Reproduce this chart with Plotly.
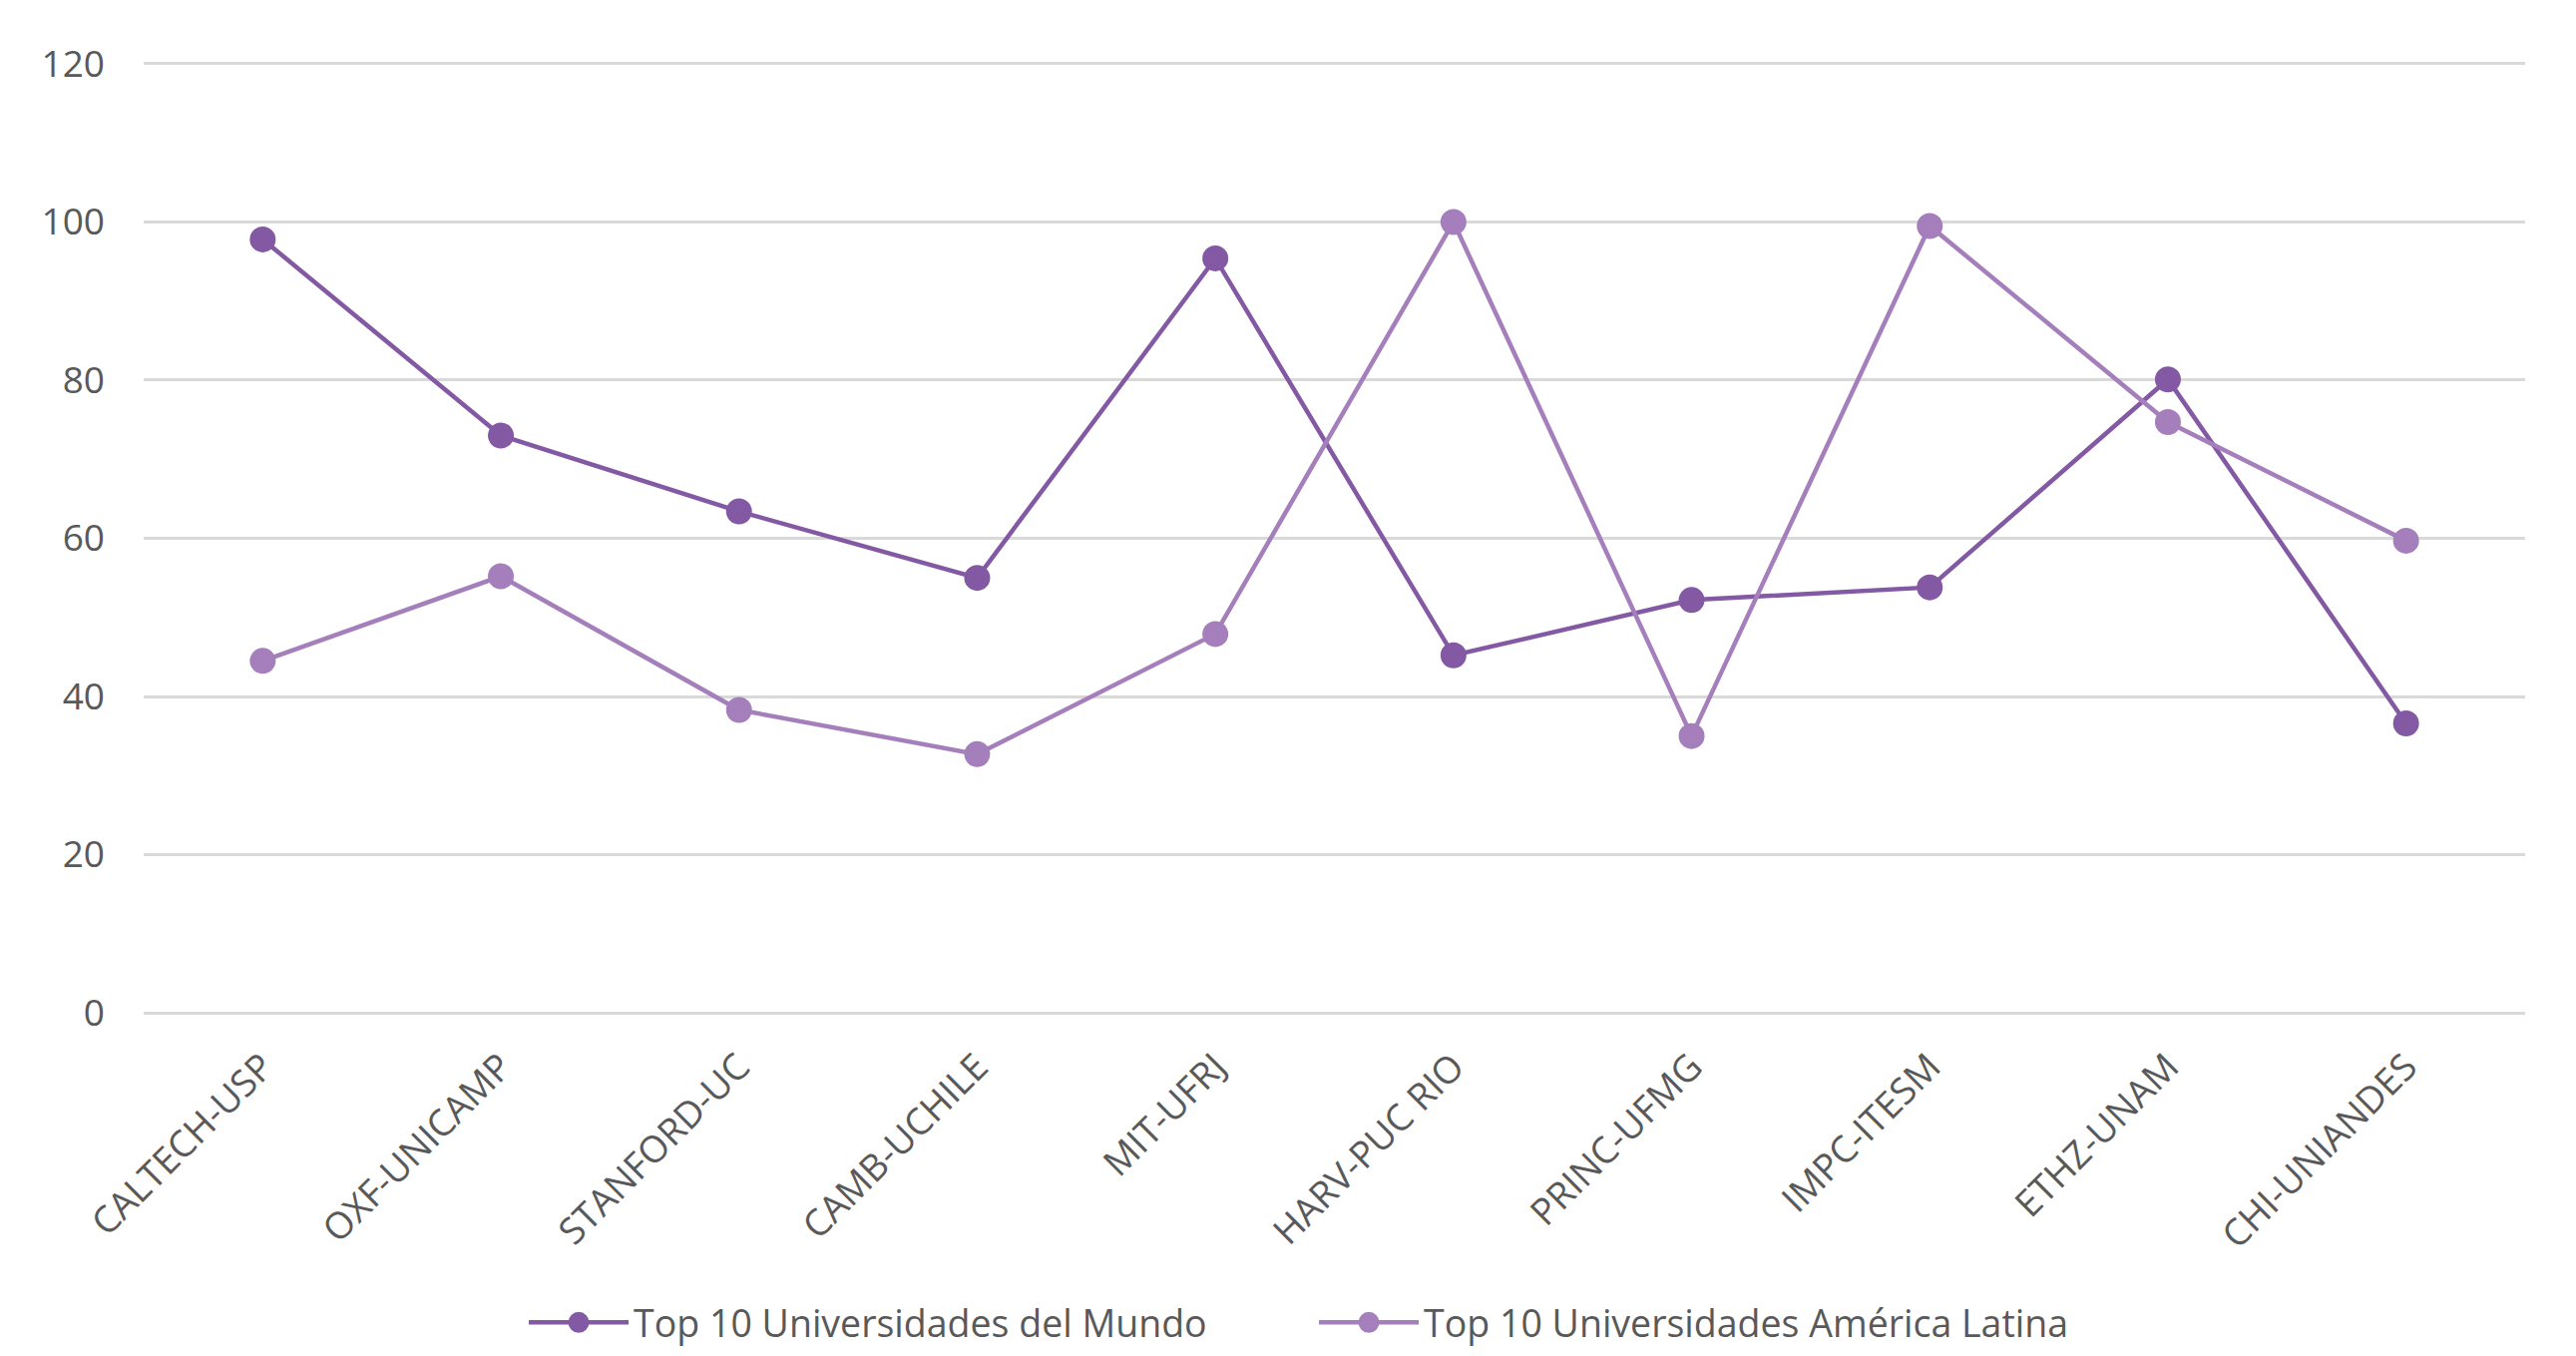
import plotly.graph_objects as go

categories = ["CALTECH-USP", "OXF-UNICAMP", "STANFORD-UC", "CAMB-UCHILE", "MIT-UFRJ",
              "HARV-PUC RIO", "PRINC-UFMG", "IMPC-ITESM", "ETHZ-UNAM", "CHI-UNIANDES"]
mundo = [97.8, 73.0, 63.4, 55.0, 95.4, 45.2, 52.2, 53.8, 80.1, 36.6]
latina = [44.5, 55.2, 38.3, 32.7, 47.9, 100.0, 35.0, 99.5, 74.7, 59.7]
series_names = ["Top 10 Universidades del Mundo", "Top 10 Universidades América Latina"]
y_ticks = [0, 20, 40, 60, 80, 100, 120]

col_mundo = "#8459A4"
col_latina = "#A57FBB"
txt = "#595959"
font_family = "Open Sans"

fig = go.Figure()
fig.add_trace(go.Scatter(x=categories, y=mundo, name=series_names[0], mode="lines+markers",
                         line=dict(color=col_mundo, width=4.5),
                         marker=dict(color=col_mundo, size=21,
                                     line=dict(color=col_mundo, width=5))))
fig.add_trace(go.Scatter(x=categories, y=latina, name=series_names[1], mode="lines+markers",
                         line=dict(color=col_latina, width=4.5),
                         marker=dict(color=col_latina, size=21,
                                     line=dict(color=col_latina, width=5))))

fig.update_layout(
    width=2566, height=1343,
    template="none",
    paper_bgcolor="white", plot_bgcolor="white",
    margin=dict(l=136, r=43, t=52, b=332, autoexpand=False),
    font=dict(family=font_family, size=37, color=txt),
    showlegend=True,
    legend=dict(orientation="h", x=0.2015, xanchor="left", xref="container",
                y=0.019, yanchor="middle", yref="container",
                font=dict(size=37.5, color=txt), itemwidth=100,
                entrywidth=677, entrywidthmode="pixels",
                bgcolor="rgba(0,0,0,0)"),
)
fig.update_xaxes(type="category", range=[-0.5, 9.5], tickangle=-45, showgrid=False,
                 showline=False, zeroline=False, ticks="", automargin=False,
                 tickfont=dict(size=37, color=txt), ticklabelstandoff=20)
fig.update_yaxes(range=[-0.5, 120.5], tickvals=y_ticks, showgrid=True, gridcolor="#D9D9D9",
                 gridwidth=2.5, zeroline=False, showline=False, ticks="", automargin=False,
                 tickfont=dict(size=37, color=txt), ticklabelstandoff=38)

fig.write_html("out.html")
